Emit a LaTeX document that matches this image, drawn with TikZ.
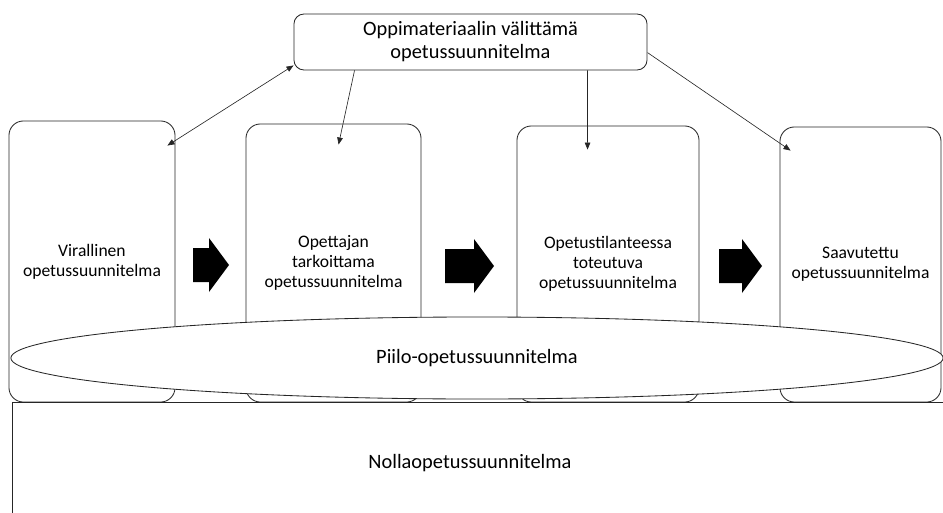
\documentclass[tikz,border=0pt]{standalone}
\usepackage{fontspec}
\setmainfont{Carlito}
\usetikzlibrary{arrows.meta,calc,shapes.geometric}

\begin{document}
\begin{tikzpicture}[
    x=0.025cm, y=-0.025cm,
    stage/.style={draw=black!85,line width=0.6pt,rectangle,rounded corners=0.36cm,align=center,fill=white,font=\fontsize{12.5}{14.2}\selectfont},
    source/.style={draw=black!85,line width=0.6pt,rectangle,rounded corners=0.25cm,align=center,fill=white,font=\fontsize{14.5}{16.4}\selectfont},
    link/.style={-{Triangle[length=5pt,width=4pt]},line width=0.45pt,black!85},
    twoway/.style={{Triangle[length=5pt,width=4pt]}-{Triangle[length=5pt,width=4pt]},line width=0.45pt,black!85},
    blockarrow/.pic={\fill[black] ({-#1/2},-17) -- ({#1/2-20},-17) -- ({#1/2-20},-27) -- ({#1/2},0) -- ({#1/2-20},27) -- ({#1/2-20},17) -- ({-#1/2},17) -- cycle;}
  ]
    \useasboundingbox (0,0) rectangle (943,513);
    \clip (0,0) rectangle (943,513);

    % Stages of the curriculum
    \node[stage,minimum width=4.15cm,minimum height=7.025cm] (vir) at (92,261.5) {Virallinen\\opetussuunnitelma};
    \node[stage,minimum width=4.375cm,minimum height=6.95cm] (opet) at (333.5,263) {Opettajan\\tarkoittama\\opetussuunnitelma};
    \node[stage,minimum width=4.55cm,minimum height=6.9cm] (tot) at (608,264) {Opetustilanteessa\\toteutuva\\opetussuunnitelma};
    \node[stage,minimum width=4.025cm,minimum height=6.875cm] (saav) at (860.5,264.5) {Saavutettu\\opetussuunnitelma};

    % Block arrows between the stages
    \pic at (211,265) {blockarrow=36};
    \pic at (469.5,266) {blockarrow=49};
    \pic at (740.5,266) {blockarrow=43};

    % Learning material on top
    \node[source,minimum width=8.825cm,minimum height=1.4cm] (oppi) at (470.5,42) {Oppimateriaalin välittämä\\opetussuunnitelma};

    \draw[twoway] ($(vir.north east)+(-8,25)$) -- ($(oppi.south west)+(0,-5)$);
    \draw[link] ($(oppi.south west)+(61,0)$) -- ($(opet.north west)+(93,21)$);
    \draw[link] ($(oppi.south west)+(294,0)$) -- ($(tot.north west)+(71,24)$);
    \draw[link] ($(oppi.north east)+(0,39)$) -- ($(saav.north west)+(11,24)$);

    % Hidden and null curriculum
    \node[draw=black!85,line width=0.6pt,ellipse,fill=white,inner sep=0pt,minimum width=23.3cm,minimum height=2.05cm,font=\fontsize{14.5}{16.4}\selectfont] (piilo) at (477,358) {Piilo-opetussuunnitelma};
    \draw[black!85,line width=0.6pt] (12,402) rectangle (960,530);
    \node[font=\fontsize{14.5}{16.4}\selectfont] (nolla) at (470,463) {Nollaopetussuunnitelma};
  \end{tikzpicture}
\end{document}
